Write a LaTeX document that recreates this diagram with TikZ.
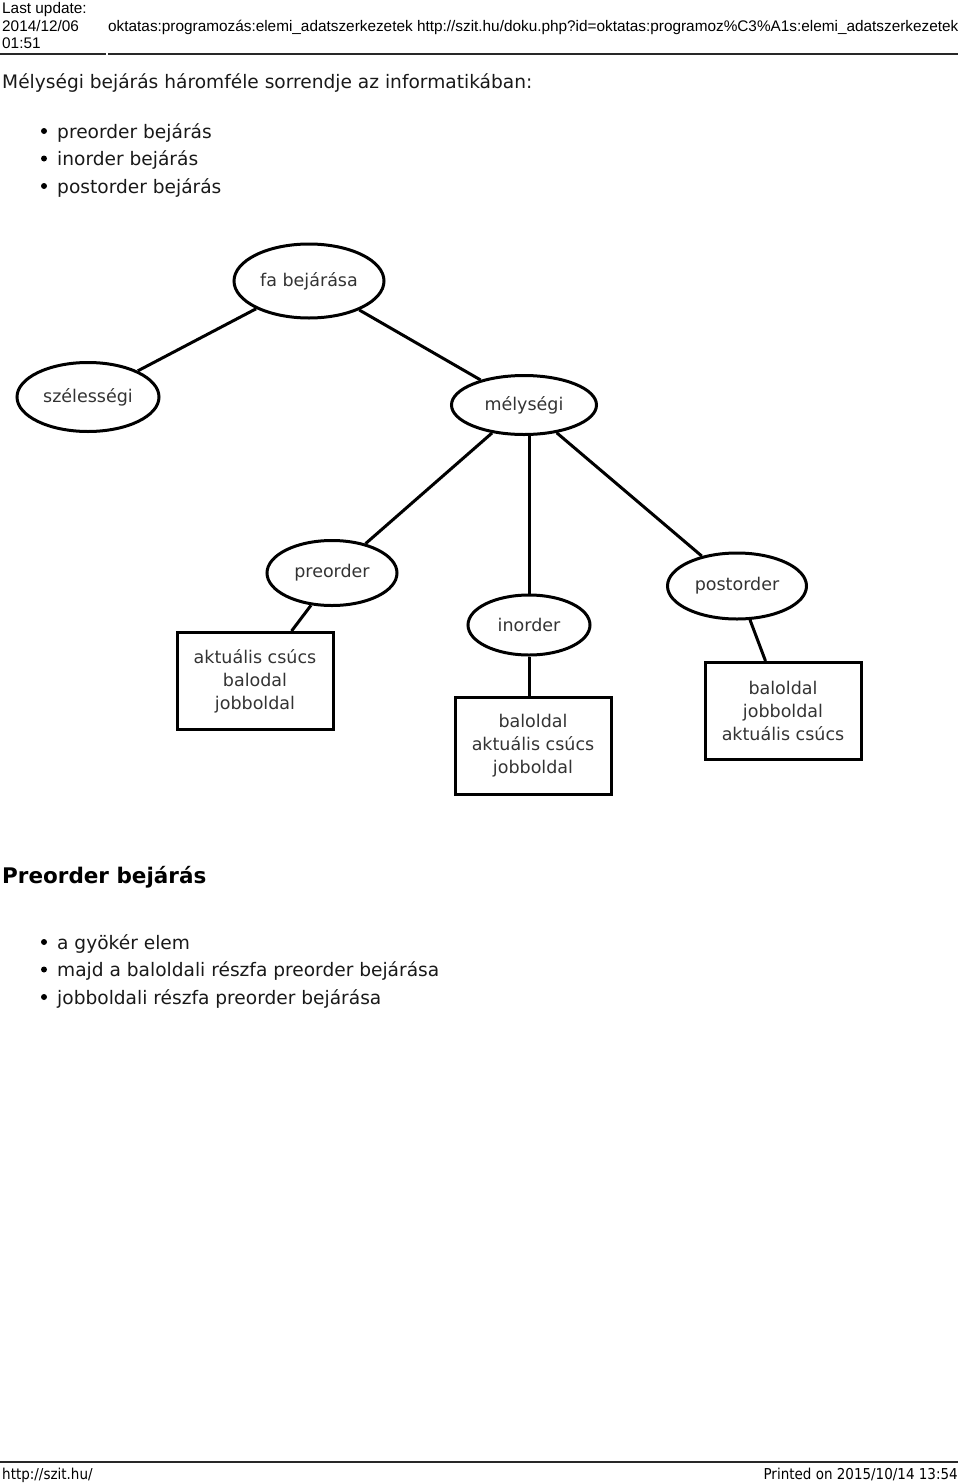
\documentclass[tikz,border=0pt]{standalone}
\usepackage{fontspec}
\setmainfont{DejaVu Sans}
\newfontfamily\headfont{Liberation Sans}
\newfontfamily\footfont{DejaVu Sans Condensed}
\usetikzlibrary{
    shapes.geometric,
    positioning,
    calc
}
\definecolor{inkgray}{RGB}{51,51,51}
\definecolor{rulegray}{RGB}{40,40,40}
\tikzset{
    % Page texts
    headtext/.style={
        anchor=base west,
        inner sep=0pt,
        font=\headfont\fontsize{15.35}{17}\selectfont,
        text=black
    },
    foottext/.style={
        anchor=base west,
        inner sep=0pt,
        font=\footfont\fontsize{15}{17}\selectfont,
        text=black
    },
    bodytext/.style={
        anchor=base west,
        inner sep=0pt,
        font=\fontsize{18.6}{27}\selectfont,
        text=black!90
    },
    sectiontitle/.style={
        anchor=base west,
        inner sep=0pt,
        font=\bfseries\fontsize{21.5}{26}\selectfont,
        text=black
    },
    rule/.style={
        line width=1.5pt,
        draw=rulegray
    },
    % Tree nodes
    treenode/.style={
        ellipse,
        draw=black,
        line width=3pt,
        inner sep=0pt,
        font=\fontsize{17.5}{23}\selectfont,
        text=inkgray
    },
    leafbox/.style={
        rectangle,
        draw=black,
        line width=3pt,
        minimum width=156pt,
        minimum height=97pt,
        align=center,
        font=\fontsize{17.5}{23}\selectfont,
        text=inkgray
    },
    % Connectors
    connector/.style={
        line width=3pt,
        draw=black
    }
}

\begin{document}
\begin{tikzpicture}[x=1pt,y=-1pt]

    \useasboundingbox (0,0) rectangle (960,1483);

    % Header
    \node[headtext] (lastupdate) at (2,13.5) {Last update:};
    \node[headtext] (updatedate) at (2,31) {2014/12/06};
    \node[headtext] (updatetime) at (2,48) {01:51};
    \node[headtext] (pageid) at (108,31) {oktatas:programozás:elemi\_adatszerkezetek http://szit.hu/doku.php?id=oktatas:programoz\%C3\%A1s:elemi\_adatszerkezetek};
    \draw[rule] (0,54) -- (106,54);
    \draw[rule] (108,54) -- (958,54);

    % Intro
    \node[bodytext] (intro) at (2,88) {Mélységi bejárás háromféle sorrendje az informatikában:};
    \foreach \txt [count=\i] in {preorder bejárás, inorder bejárás, postorder bejárás} {
        \fill (44,{131+27.5*(\i-1)}) circle (3pt);
        \node[bodytext] (order\i) at (57,{138+27.5*(\i-1)}) {\txt};
    }

    % Tree
    \node[treenode, minimum width=150pt, minimum height=74pt] (root) at (309,281) {fa bejárása};
    \node[treenode, minimum width=142pt, minimum height=69pt] (breadth) at (88,397) {szélességi};
    \node[treenode, minimum width=145pt, minimum height=59pt] (depth) at (524,405) {mélységi};
    \node[treenode, minimum width=130pt, minimum height=65pt] (pre) at (332,573) {preorder};
    \node[treenode, minimum width=122pt, minimum height=60pt] (in) at (529,625) {inorder};
    \node[treenode, minimum width=139pt, minimum height=66pt] (post) at (737,586) {postorder};

    % Leaf boxes
    \node[leafbox] (prebox) at (255,681) {aktuális csúcs\\balodal\\jobboldal};
    \node[leafbox] (inbox) at (533,746) {baloldal\\aktuális csúcs\\jobboldal};
    \node[leafbox] (postbox) at (783,711) {baloldal\\jobboldal\\aktuális csúcs};

    % Connectors
    \draw[connector] (root) -- (breadth);
    \draw[connector] (root) -- (depth);
    \draw[connector] (depth) -- (pre);
    \draw[connector] (depth.south -| in.north) -- (in.north);
    \draw[connector] (depth) -- (post);
    \draw[connector] (pre.237) -- ($(prebox.north west)!0.73!(prebox.north east)$);
    \draw[connector] (in.south) -- (in.south |- inbox.north);
    \draw[connector] (post.291) -- ($(postbox.north west)!0.39!(postbox.north east)$);

    % Preorder section
    \node[sectiontitle] (pretitle) at (2,883) {Preorder bejárás};
    \foreach \txt [count=\i] in {a gyökér elem, majd a baloldali részfa preorder bejárása, jobboldali részfa preorder bejárása} {
        \fill (44,{942+27.5*(\i-1)}) circle (3pt);
        \node[bodytext] (step\i) at (57,{949+27.5*(\i-1)}) {\txt};
    }

    % Footer
    \draw[rule, line width=2pt] (0,1462) -- (958,1462);
    \node[foottext] (siteurl) at (2,1479) {http://szit.hu/};
    \node[foottext, anchor=base east] (printed) at (958,1479) {Printed on 2015/10/14 13:54};

\end{tikzpicture}
\end{document}
